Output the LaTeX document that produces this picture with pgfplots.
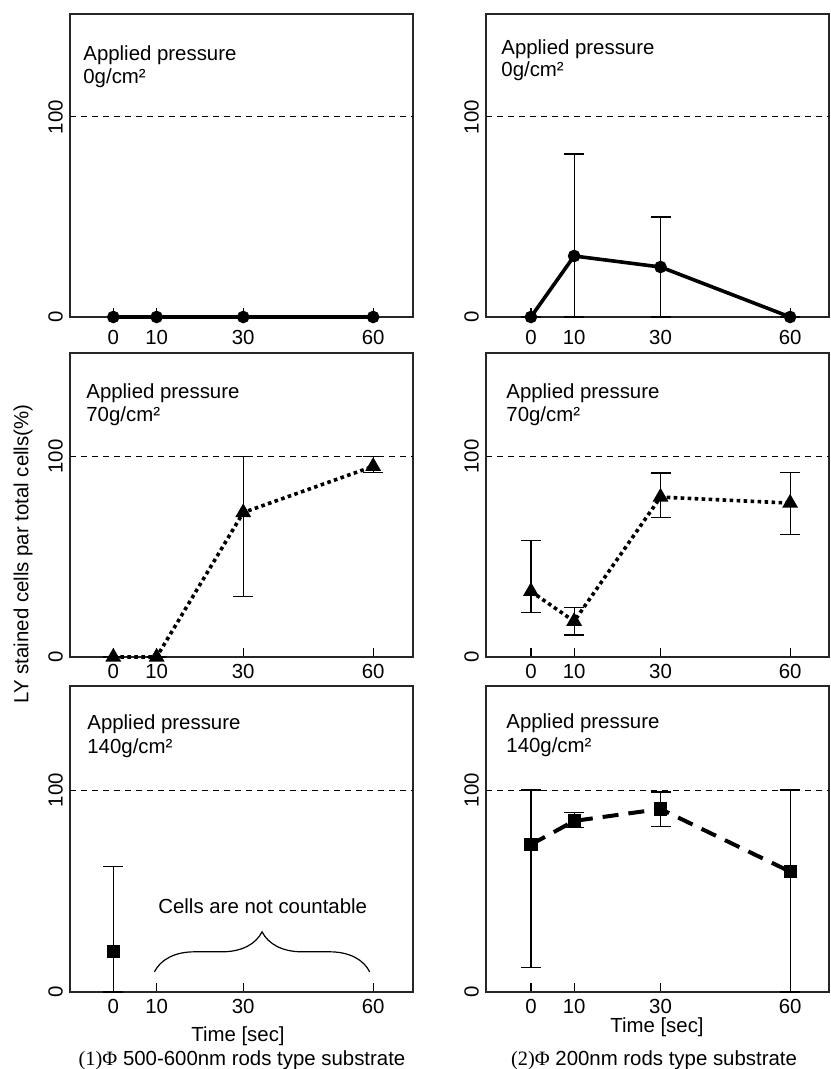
\documentclass[border=0pt]{standalone}
\usepackage{fontspec}
\setmainfont{Liberation Sans}
\newfontfamily\seriffont{Liberation Serif}
\usepackage{pgfplots}
\pgfplotsset{compat=1.18}
\usetikzlibrary{decorations.pathreplacing}
\newcommand\fs{\fontsize{10.2}{12}\selectfont}

\pgfplotsset{
  panel/.style={
    scale only axis, width=171.5pt,
    ymin=0, ymax=151.5,
    xtick={0,10,30,60}, ytick={0,100},
    xtick pos=bottom, ytick pos=left,
    tick align=inside, major tick length=4.5pt,
    xtick style={line width=0.6pt, black},
    ytick style={draw=none},
    axis line style={line width=0.7pt, black!85},
    tick label style={font=\fs},
    yticklabel style={rotate=90, anchor=south},
    /pgf/number format/assume math mode=true,
    clip=false,
  },
  leftcol/.style={xmin=-10, xmax=69.2},
  rightcol/.style={xmin=-10.4, xmax=69},
  hund/.style={line width=0.5pt, dash pattern=on 3pt off 2.5pt, forget plot},
  eb/.style={
    error bars/y dir=both, error bars/y explicit,
    error bars/error bar style={line width=0.6pt, solid},
    error bars/error mark options={rotate=90, line width=0.6pt, mark size=5pt, solid, black},
  },
  solidln/.style={black, line width=1.8pt, mark=*, mark size=2.2pt},
  dotln/.style={black, line width=1.8pt, dash pattern=on 1.8pt off 1.7pt,
    mark=triangle*, mark size=2.8pt, mark options={solid}},
  dashln/.style={black, line width=2pt, dash pattern=on 8pt off 5pt,
    mark=square*, mark size=2.3pt, mark options={solid}},
}

% title inside a panel: #1 second line, #2 dx, #3 dy first baseline, #4 dy second baseline
\newcommand\ptitle[4]{%
  \node[anchor=base west, inner sep=0, font=\fs, xshift=#2, yshift=-#3] at (rel axis cs:0,1) {Applied pressure};
  \node[anchor=base west, inner sep=0, font=\fs, xshift=#2, yshift=-#4] at (rel axis cs:0,1) {#1};
}

\begin{document}
\begin{tikzpicture}
\useasboundingbox (0,0) rectangle (415pt,-534.5pt);

% ---- row 1, left
\begin{axis}[panel, leftcol, at={(35pt,-7pt)}, anchor=north west, height=151.5pt,
  xticklabel style={yshift=-3pt}]
\addplot[hund] coordinates {(-10,100) (69.2,100)};
\addplot[solidln] coordinates {(0,0) (10,0) (30,0) (60,0)};
\ptitle{0g/cm²}{6.5pt}{23.5pt}{35pt}
\end{axis}

% ---- row 1, right
\begin{axis}[panel, rightcol, at={(243pt,-7pt)}, anchor=north west, height=151.5pt,
  xticklabel style={yshift=-3pt}]
\addplot[hund] coordinates {(-10.4,100) (69,100)};
\addplot[solidln, eb] table[x=x, y=y, y error plus=ep, y error minus=em] {
x  y     ep    em
0  0     0     0
10 30.5  51    30.5
30 25    25    25
60 0     0     0
};
\ptitle{0g/cm²}{7.5pt}{20.5pt}{31.5pt}
\end{axis}

% ---- row 2, left
\begin{axis}[panel, leftcol, at={(35pt,-176.5pt)}, anchor=north west, height=152pt]
\addplot[hund] coordinates {(-10,100) (69.2,100)};
\addplot[dotln, eb] table[x=x, y=y, y error plus=ep, y error minus=em] {
x  y   ep  em
0  0   0   0
10 0   0   0
30 72  28  42
60 95  5   3
};
\ptitle{70g/cm²}{8pt}{22.5pt}{34pt}
\end{axis}

% ---- row 2, right
\begin{axis}[panel, rightcol, at={(243pt,-176.5pt)}, anchor=north west, height=152pt]
\addplot[hund] coordinates {(-10.4,100) (69,100)};
\addplot[dotln, eb] table[x=x, y=y, y error plus=ep, y error minus=em] {
x  y     ep    em
0  32.7  25.3  10.7
10 17.8  7     6.8
30 79.7  12    10
60 76.7  15.3  15.7
};
\ptitle{70g/cm²}{10pt}{22.5pt}{34pt}
\end{axis}

% ---- row 3, left
\begin{axis}[panel, leftcol, at={(35pt,-343pt)}, anchor=north west, height=153pt]
\addplot[hund] coordinates {(-10,100) (69.2,100)};
\addplot[dashln, only marks, eb] table[x=x, y=y, y error plus=ep, y error minus=em] {
x  y   ep  em
0  20  42  20
};
\draw[decorate, decoration={brace, amplitude=20pt}, line width=0.6pt]
  (axis cs:9.5,10) -- (axis cs:59.2,10);
\node[anchor=base, font=\fs] at (axis cs:34.5,39) {Cells are not countable};
\ptitle{140g/cm²}{8.5pt}{21.5pt}{33.5pt}
\end{axis}

% ---- row 3, right
\begin{axis}[panel, rightcol, at={(243pt,-343pt)}, anchor=north west, height=153pt]
\addplot[hund] coordinates {(-10.4,100) (69,100)};
\addplot[dashln, eb] table[x=x, y=y, y error plus=ep, y error minus=em] {
x  y     ep    em
0  73    27    61
10 84.7  4     3.4
30 90.6  8.4   8.8
60 59.6  40.4  59.6
};
\ptitle{140g/cm²}{10pt}{21pt}{33pt}
\end{axis}

% ---- shared labels
\node[rotate=90, font=\fs] at (11.5pt,-277pt) {LY stained cells par total cells(\%)};
\node[anchor=base, font=\fs] at (119pt,-520.5pt) {Time [sec]};
\node[anchor=base, font=\fs] at (121pt,-532.5pt) {{\seriffont (1)Φ} 500-600nm rods type substrate};
\node[anchor=base, font=\fs] at (328.5pt,-516pt) {Time [sec]};
\node[anchor=base, font=\fs] at (327pt,-532.5pt) {{\seriffont (2)Φ} 200nm rods type substrate};
\end{tikzpicture}
\end{document}
